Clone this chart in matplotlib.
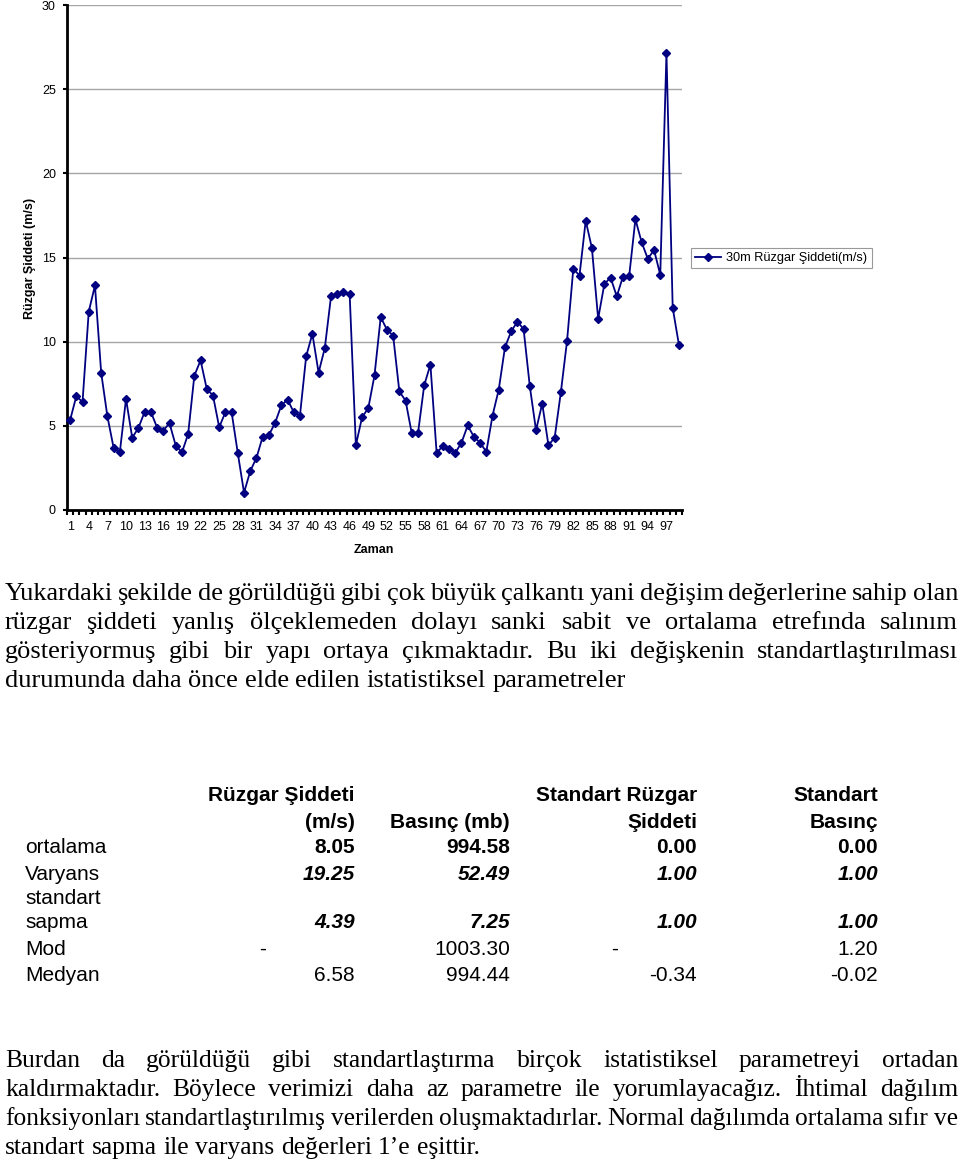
import matplotlib
matplotlib.use("Agg")
import matplotlib.pyplot as plt
from matplotlib.ticker import FixedLocator, NullFormatter

# ---------------- data ----------------
time_index = list(range(1, 100))
wind_speed = [
    5.34, 6.76, 6.42, 11.78, 13.34, 8.16, 5.57, 3.70, 3.42, 6.60,
    4.29, 4.88, 5.83, 5.83, 4.90, 4.72, 5.16, 3.83, 3.42, 4.51,
    7.98, 8.89, 7.19, 6.80, 4.92, 5.81, 5.81, 3.36, 1.03, 2.31,
    3.10, 4.35, 4.45, 5.18, 6.21, 6.56, 5.81, 5.61, 9.13, 10.47,
    8.16, 9.62, 12.69, 12.85, 12.98, 12.83, 3.85, 5.51, 6.05, 8.00,
    11.46, 10.71, 10.36, 7.04, 6.50, 4.55, 4.55, 7.41, 8.64, 3.40,
    3.79, 3.64, 3.40, 3.99, 5.02, 4.35, 3.99, 3.46, 5.61, 7.15,
    9.66, 10.61, 11.19, 10.75, 7.35, 4.74, 6.32, 3.85, 4.29, 7.00,
    10.06, 14.33, 13.93, 17.19, 15.55, 11.36, 13.42, 13.81, 12.69, 13.87,
    13.91, 17.27, 15.91, 14.92, 15.45, 13.97, 27.15, 12.02, 9.82,
]
series_label = "30m Rüzgar Şiddeti(m/s)"
y_label = "Rüzgar Şiddeti (m/s)"
x_label = "Zaman"
y_ticks = [0, 5, 10, 15, 20, 25, 30]
x_tick_values = list(range(1, 98, 3))

para1_lines = [
    "Yukardaki şekilde de görüldüğü gibi çok büyük çalkantı yani değişim değerlerine sahip olan",
    "rüzgar şiddeti yanlış ölçeklemeden dolayı sanki sabit ve ortalama etrefında salınım",
    "gösteriyormuş gibi bir yapı ortaya çıkmaktadır. Bu iki değişkenin standartlaştırılması",
    "durumunda daha önce elde edilen istatistiksel parametreler",
]
para2_lines = [
    "Burdan da görüldüğü gibi standartlaştırma birçok istatistiksel parametreyi ortadan",
    "kaldırmaktadır. Böylece verimizi daha az parametre ile yorumlayacağız. İhtimal dağılım",
    "fonksiyonları standartlaştırılmış verilerden oluşmaktadırlar. Normal dağılımda ortalama sıfır ve",
    "standart sapma ile varyans değerleri 1’e eşittir.",
]

table_headers = [
    ["Rüzgar Şiddeti", "(m/s)"],
    ["", "Basınç (mb)"],
    ["Standart Rüzgar", "Şiddeti"],
    ["Standart", "Basınç"],
]
row_ortalama = ["8.05", "994.58", "0.00", "0.00"]
row_varyans = ["19.25", "52.49", "1.00", "1.00"]
row_sapma = ["4.39", "7.25", "1.00", "1.00"]
row_mod = ["-", "1003.30", "-", "1.20"]
row_medyan = ["6.58", "994.44", "-0.34", "-0.02"]

# ---------------- figure ----------------
W, H, DPI = 960, 1163, 100
fig = plt.figure(figsize=(W / DPI, H / DPI), dpi=DPI)
fig.patch.set_facecolor("white")


def fx(px):
    return px / W


def fy(py):
    return 1 - py / H


CHART_FONT = "Liberation Sans"
navy = "#000080"

ax = fig.add_axes([fx(67), fy(510), (682 - 67) / W, (510 - 5) / H])
ax.plot(time_index, wind_speed, color=navy, lw=1.3, marker="D",
        markersize=4.2, markerfacecolor=navy, markeredgecolor=navy,
        label=series_label, zorder=3, clip_on=False)
ax.set_xlim(0.5, 99.5)
ax.set_ylim(0, 30)
ax.set_yticks(y_ticks)
ax.yaxis.grid(True, color="#a6a6a6", lw=1.0)
ax.set_axisbelow(True)
for s in ["top", "right"]:
    ax.spines[s].set_visible(False)
for s in ["left", "bottom"]:
    ax.spines[s].set_linewidth(2.0)
    ax.spines[s].set_color("black")
ax.tick_params(axis="y", direction="out", length=3, width=1.5, pad=5,
               labelsize=9)
ax.set_xticks(x_tick_values)
ax.set_xticklabels([str(v) for v in x_tick_values])
ax.tick_params(axis="x", which="major", length=0, pad=8, labelsize=9)
ax.xaxis.set_minor_locator(FixedLocator([i + 0.5 for i in range(0, 100)]))
ax.xaxis.set_minor_formatter(NullFormatter())
ax.tick_params(axis="x", which="minor", direction="out", length=3.5, width=1.5)
for lab in ax.get_xticklabels() + ax.get_yticklabels():
    lab.set_fontfamily(CHART_FONT)

fig.text(fx(30), fy(258), y_label, rotation=90, ha="center", va="center",
         fontsize=9, fontweight="bold", family=CHART_FONT)
fig.text(fx(374), fy(550), x_label, ha="center", va="center",
         fontsize=9, fontweight="bold", family=CHART_FONT)

leg = fig.legend(loc="center left", bbox_to_anchor=(fx(691), fy(258)),
                 prop={"family": CHART_FONT, "size": 9.2}, frameon=True,
                 fancybox=False, handlelength=2.0, handletextpad=0.4,
                 borderpad=0.35, borderaxespad=0)
leg.get_frame().set_edgecolor("#808080")
leg.get_frame().set_linewidth(0.8)

# ---------------- justified paragraphs ----------------
renderer = fig.canvas.get_renderer()
SERIF = "Liberation Serif"
MIN_GAP = 4.0


def place_line(text, y_base, left, right, justify, fs):
    words = text.split(" ")
    while True:
        objs = [fig.text(0, fy(y_base), w, ha="left", va="baseline",
                         family=SERIF, fontsize=fs) for w in words]
        widths = [o.get_window_extent(renderer).width for o in objs]
        total = sum(widths) + MIN_GAP * (len(words) - 1)
        if not justify or total <= right - left or fs < 14:
            break
        for o in objs:
            o.remove()
        fs -= 0.1
    if justify and len(words) > 1:
        gap = (right - left - sum(widths)) / (len(words) - 1)
    else:
        gap = fs * DPI / 72 * 0.25
    x = left
    for o, w in zip(objs, widths):
        o.set_x(fx(x))
        x += w + gap


for i, line in enumerate(para1_lines):
    place_line(line, 600 + 29 * i, 5, 958, i < len(para1_lines) - 1, 19.0)
for i, line in enumerate(para2_lines):
    place_line(line, 1067 + 29 * i, 5, 958, i < len(para2_lines) - 1, 18.4)

# ---------------- table ----------------
TFS = 15
col_right = [355, 510, 697, 878]
dash_x = [263, None, 615, None]
label_x = 25


def tcell(x, yb, s, ha="right", weight="normal", style="normal"):
    fig.text(fx(x), fy(yb), s, ha=ha, va="baseline", family=CHART_FONT,
             fontsize=TFS, fontweight=weight, fontstyle=style)


for c, hdr in enumerate(table_headers):
    for k, s in enumerate(hdr):
        if s:
            tcell(col_right[c], 801 + 27 * k, s, weight="bold")

rows = [
    (["ortalama"], row_ortalama, "bold", "normal", 853),
    (["Varyans"], row_varyans, "bold", "italic", 880),
    (["standart", "sapma"], row_sapma, "bold", "italic", 928),
    (["Mod"], row_mod, "normal", "normal", 955),
    (["Medyan"], row_medyan, "normal", "normal", 981),
]
for labels, vals, wgt, sty, yb in rows:
    for k, lab in enumerate(labels):
        tcell(label_x, yb - 24 * (len(labels) - 1 - k), lab, ha="left")
    for c, v in enumerate(vals):
        if v == "-":
            tcell(dash_x[c], yb, v, ha="center", weight=wgt, style=sty)
        else:
            tcell(col_right[c], yb, v, weight=wgt, style=sty)

fig.savefig("out.png", dpi=DPI, facecolor="white")
